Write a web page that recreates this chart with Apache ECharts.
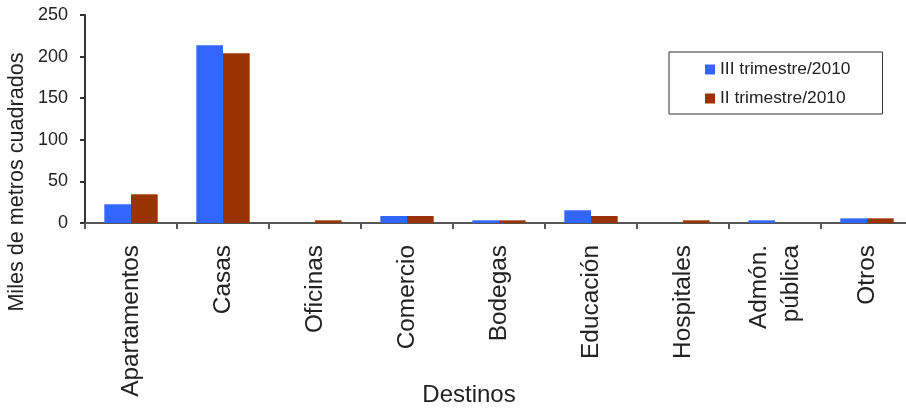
<!DOCTYPE html>
<html>
<head>
<meta charset="utf-8">
<script src="https://cdn.jsdelivr.net/npm/echarts@6/dist/echarts.min.js"></script>
<style>html,body{margin:0;padding:0;background:#fff}#c{width:906px;height:408px}</style>
</head>
<body>
<div id="c"></div>
<script>
const categories = ['Apartamentos','Casas','Oficinas','Comercio','Bodegas','Educación','Hospitales','Admón.\npública','Otros'];
const seriesNames = ['III trimestre/2010','II trimestre/2010'];
const q3Values = [22.5, 213.6, 0, 8.4, 3.2, 15.3, 0, 3.2, 5.6];
const q2Values = [34.5, 204, 3.2, 8.4, 3.2, 8.4, 3.2, 0, 5.6];
const yTicks = {min: 0, max: 250, interval: 50};
const colors = ['#3366FF', '#993300'];
const font = 'Liberation Sans, Arial, sans-serif';

const chart = echarts.init(document.getElementById('c'), null, {renderer: 'canvas'});
chart.setOption({
  animation: false,
  backgroundColor: '#fff',
  textStyle: {fontFamily: font},
  grid: {left: 85, right: -7, top: 15, bottom: 185, containLabel: false, outerBoundsMode: 'none'},
  legend: {
    orient: 'vertical', left: 669, top: 52,
    padding: [9, 32, 7, 36], itemGap: 12,
    itemWidth: 10, itemHeight: 10,
    borderColor: '#333', borderWidth: 1,
    textStyle: {fontSize: 17.4, color: '#222', fontFamily: font},
    data: seriesNames.map(n => ({name: n, icon: 'rect'}))
  },
  xAxis: {
    type: 'category', data: categories,
    name: 'Destinos', nameLocation: 'middle', nameGap: 160, nameMoveOverlap: false,
    nameTextStyle: {fontSize: 24, color: '#222', padding: [0, 60, 0, 0]},
    axisLine: {lineStyle: {color: '#555', width: 2}},
    axisTick: {show: true, length: 6, lineStyle: {color: '#555', width: 2}},
    axisLabel: {rotate: 90, fontSize: 24.4, color: '#222', margin: 22, interval: 0, lineHeight: 32}
  },
  yAxis: {
    type: 'value', min: yTicks.min, max: yTicks.max, interval: yTicks.interval,
    name: 'Miles de metros cuadrados', nameLocation: 'middle', nameGap: 57, nameRotate: 90, nameMoveOverlap: false,
    nameTextStyle: {fontSize: 21.6, color: '#222', padding: [0, 126, 0, 0]},
    axisLine: {show: true, lineStyle: {color: '#333', width: 2}},
    axisTick: {show: true, length: 5, lineStyle: {color: '#333', width: 2}},
    axisLabel: {fontSize: 18, color: '#222', margin: 17},
    splitLine: {show: false}
  },
  series: [
    {name: seriesNames[0], type: 'bar', data: q3Values, itemStyle: {color: colors[0]}, barGap: '0%', barCategoryGap: '42%'},
    {name: seriesNames[1], type: 'bar', data: q2Values, itemStyle: {color: colors[1]}, barGap: '0%', barCategoryGap: '42%'}
  ]
});
</script>
</body>
</html>
